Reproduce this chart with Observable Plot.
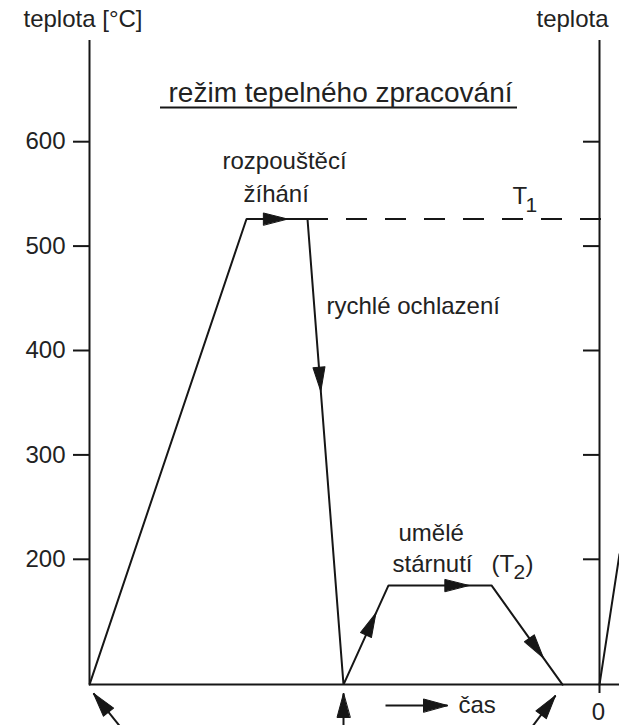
<!DOCTYPE html>
<html><head><meta charset="utf-8">
<script src="https://cdn.jsdelivr.net/npm/d3@7"></script>
<script src="https://cdn.jsdelivr.net/npm/@observablehq/plot@0.6"></script>
<style>html,body{margin:0;padding:0;background:#fff;overflow:hidden}</style>
</head><body><div id="chart"></div>
<script>
// Temperature profile (time in arbitrary units, temperature in °C)
const profileTime = [0, 15.7, 21.8, 25.4, 29.9, 40.2, 47.3];
const profileTemp = [80, 526, 526, 80, 175, 175, 80];
// start of the next cycle at the right axis
const nextCycleTime = [51, 53];
const nextCycleTemp = [80, 205];
// solution treatment temperature line T1
const t1Temp = 526;
const t1From = 21.8;
const t1To = 53;
// axes
const yTicks = [200, 300, 400, 500, 600];
const leftAxisTime = 0;
const rightAxisTime = 51;
const baseTemp = 80;
const axisTopTemp = 697;
const rightAxisBottomTemp = 71.5;
const baseEndTime = 53;
// direction arrows on the profile: segment index (from point i to i+1) and fraction along it
const arrowSegment = [1, 2, 3, 4, 5];
const arrowAt = [0.67, 0.37, 0.72, 0.78, 0.73];
// pointer arrows below the time axis
const pointerFromTime = [3.8, 25.4, 43.6, 29.6];
const pointerFromTemp = [31, 25, 31, 60];
const pointerToTime = [0.4, 25.4, 46.6, 35.8];
const pointerToTemp = [71.5, 71.5, 69.5, 60];
// title
const titleText = "režim tepelného zpracování";
const titleTime = 25.1, titleTemp = 638.5;
const underlineFrom = 7.1, underlineTo = 42.8, underlineTemp = 632.8;
// labels
const labelText = ["teplota [°C]", "teplota", "rozpouštěcí", "žíhání", "rychlé ochlazení", "umělé", "stárnutí", "(T", ")", "čas", "T"];
const labelTime = [-6.6, 44.7, 13.3, 15.4, 23.7, 30.9, 30.3, 40.2, 43.6, 36.9, 42.3];
const labelTemp = [710.3, 710.3, 573.4, 541.8, 435.4, 218.0, 187.4, 187.4, 187.4, 52.3, 540.8];
const subText = ["1", "2"];
const subTime = [43.6, 42.4];
const subTemp = [532.2, 180.7];
const zeroText = ["0"];
const zeroTime = [50.9];
const zeroTemp = [45.6];

const xDomain = [0, 51], xRange = [89, 599];
const yDomain = [0, 600], yRange = [767.6, 141.2];
const xs = Plot.scale({x: {domain: xDomain, range: xRange}});
const ys = Plot.scale({y: {domain: yDomain, range: yRange}});
const angleOf = (t0, T0, t1, T1) => {
  const dx = xs.apply(t1) - xs.apply(t0);
  const dy = ys.apply(T1) - ys.apply(T0);
  return Math.atan2(dx, -dy) * 180 / Math.PI;
};

const profile = profileTime.map((t, i) => ({t, T: profileTemp[i]}));
const nextCycle = nextCycleTime.map((t, i) => ({t, T: nextCycleTemp[i]}));
const heads = arrowSegment.map((s, i) => {
  const a = profile[s], b = profile[s + 1], f = arrowAt[i];
  return {t: a.t + f * (b.t - a.t), T: a.T + f * (b.T - a.T), angle: angleOf(a.t, a.T, b.t, b.T)};
});
const pointers = pointerFromTime.map((t, i) => ({
  t0: t, T0: pointerFromTemp[i], t1: pointerToTime[i], T1: pointerToTemp[i],
  angle: angleOf(t, pointerFromTemp[i], pointerToTime[i], pointerToTemp[i])
}));
const labels = labelText.map((s, i) => ({s, t: labelTime[i], T: labelTemp[i]}));
const subs = subText.map((s, i) => ({s, t: subTime[i], T: subTemp[i]}));
const zeros = zeroText.map((s, i) => ({s, t: zeroTime[i], T: zeroTemp[i]}));

const headShape = {
  draw(context, l, r) {
    context.moveTo(0, -l);
    context.lineTo(-r, 0);
    context.lineTo(r, 0);
    context.closePath();
  }
};

const ink = "#161616";
const font = "Liberation Sans, Arial, Helvetica, sans-serif";

const chart = Plot.plot({
  width: 619,
  height: 725,
  marginLeft: 89,
  marginRight: 20,
  marginTop: 40,
  marginBottom: 42,
  style: {fontFamily: font, color: "#222", background: "#fff"},
  x: {domain: xDomain, range: xRange, axis: null},
  y: {domain: yDomain, range: yRange, axis: null},
  marks: [
    Plot.ruleX([leftAxisTime], {y1: baseTemp, y2: axisTopTemp, stroke: ink, strokeWidth: 2}),
    Plot.ruleX([rightAxisTime], {y1: rightAxisBottomTemp, y2: axisTopTemp, stroke: ink, strokeWidth: 2}),
    Plot.ruleY([baseTemp], {x1: leftAxisTime, x2: baseEndTime, stroke: ink, strokeWidth: 2}),
    Plot.axisY({ticks: yTicks, anchor: "left", tickSize: 16, tickPadding: 8, fontSize: 24, strokeWidth: 2, stroke: ink, label: null}),
    Plot.tickY(yTicks, {y: d => d, insetLeft: 494, stroke: ink, strokeWidth: 2}),
    Plot.line(profile, {x: "t", y: "T", stroke: ink, strokeWidth: 2, strokeLinejoin: "miter"}),
    Plot.line(nextCycle, {x: "t", y: "T", stroke: ink, strokeWidth: 2}),
    Plot.ruleY([t1Temp], {x1: t1From, x2: t1To, stroke: ink, strokeWidth: 2, strokeDasharray: "21,18"}),
    Plot.vector(heads, {x: "t", y: "T", rotate: "angle", length: 24, r: 6, anchor: "end", shape: headShape, fill: ink, stroke: ink, strokeWidth: 1}),
    Plot.link(pointers, {x1: "t0", y1: "T0", x2: "t1", y2: "T1", stroke: ink, strokeWidth: 2}),
    Plot.vector(pointers, {x: "t1", y: "T1", rotate: "angle", length: 24, r: 6.5, anchor: "end", shape: headShape, fill: ink, stroke: ink, strokeWidth: 1}),
    Plot.ruleY([underlineTemp], {x1: underlineFrom, x2: underlineTo, stroke: ink, strokeWidth: 2}),
    Plot.text([titleText], {x: () => titleTime, y: () => titleTemp, text: d => d, fontSize: 28, textAnchor: "middle", lineAnchor: "bottom", fill: "#222"}),
    Plot.text(labels, {x: "t", y: "T", text: "s", fontSize: 24, textAnchor: "start", lineAnchor: "bottom", fill: "#222"}),
    Plot.text(subs, {x: "t", y: "T", text: "s", fontSize: 21, textAnchor: "start", lineAnchor: "bottom", fill: "#222"}),
    Plot.text(zeros, {x: "t", y: "T", text: "s", fontSize: 24, textAnchor: "middle", lineAnchor: "bottom", fill: "#222"})
  ]
});
document.getElementById("chart").appendChild(chart);
</script>
</body></html>
